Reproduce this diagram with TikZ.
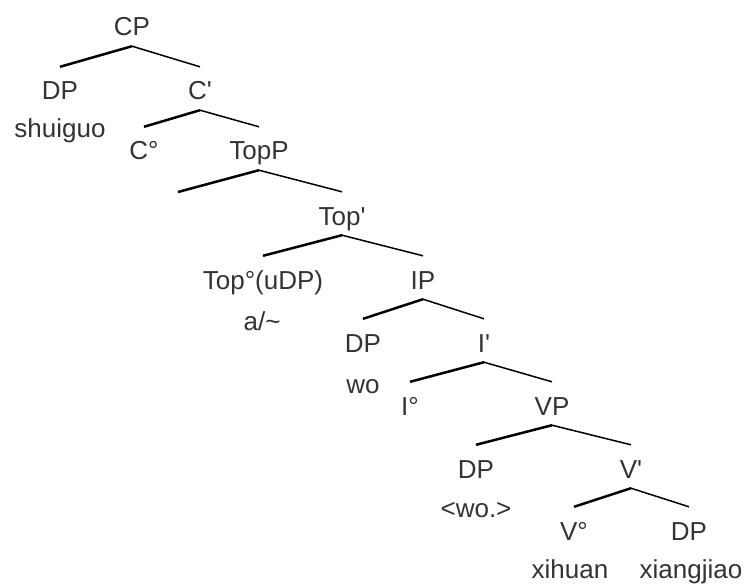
\documentclass[tikz,border=0pt]{standalone}
\usepackage{fontspec}
\setmainfont{Liberation Sans}
\newcommand{\prm}{\textquotesingle}
\tikzset{
  cat/.style={anchor=base, text=black!80, font=\fontsize{26}{30}\selectfont,
    inner xsep=2pt, inner ysep=10pt, text height=23pt, text depth=0pt},
  word/.style={anchor=base, text=black!80, font=\fontsize{26}{30}\selectfont, inner sep=0pt},
  lbranch/.style={line width=2.5pt},
  rbranch/.style={line width=1.5pt}
}
\begin{document}
\begin{tikzpicture}[x=1pt,y=-1pt]
\useasboundingbox (0,0) rectangle (749,588);
% categories
\node[cat] (cp) at (132,36) {CP};
\node[cat] (dpa) at (60,100) {DP};
\node[cat] (cbar) at (200,100) {C\prm};
\node[cat] (chead) at (144,160) {C°};
\node[cat] (topp) at (259,160) {TopP};
\coordinate (topgap) at (178,192);
\node[cat] (topbar) at (342,225) {Top\prm};
\node[cat] (tophead) at (263,289) {Top°(uDP)};
\node[cat] (ip) at (423,289) {IP};
\node[cat] (dpb) at (363,352) {DP};
\node[cat] (ibar) at (484,352) {I\prm};
\node[cat] (ihead) at (410,415) {I°};
\node[cat] (vp) at (552,415) {VP};
\node[cat] (dpc) at (476,478) {DP};
\node[cat] (vbar) at (631,478) {V\prm};
\node[cat] (vhead) at (574,540) {V°};
\node[cat] (dpd) at (689,540) {DP};
% words
\node[word] (shuiguo) at (60,138) {shuiguo};
\node[word] (asim) at (262,330) {a/\textasciitilde};
\node[word] (wo) at (363,393) {wo};
\node[word] (wotrace) at (476,517) {<wo.>};
\node[word] (xihuan) at (570,578) {xihuan};
\node[word] (xiangjiao) at (691,578) {xiangjiao};
% branches
\foreach \mother/\lchild/\rchild in {cp/dpa/cbar, cbar/chead/topp, topbar/tophead/ip,
    ip/dpb/ibar, ibar/ihead/vp, vp/dpc/vbar, vbar/vhead/dpd}{
  \draw[lbranch] (\mother.south) -- (\lchild.north);
  \draw[rbranch] (\mother.south) -- (\rchild.north);
};
\draw[lbranch] (topp.south) -- (topgap);
\draw[rbranch] (topp.south) -- (topbar.north);
\end{tikzpicture}
\end{document}
